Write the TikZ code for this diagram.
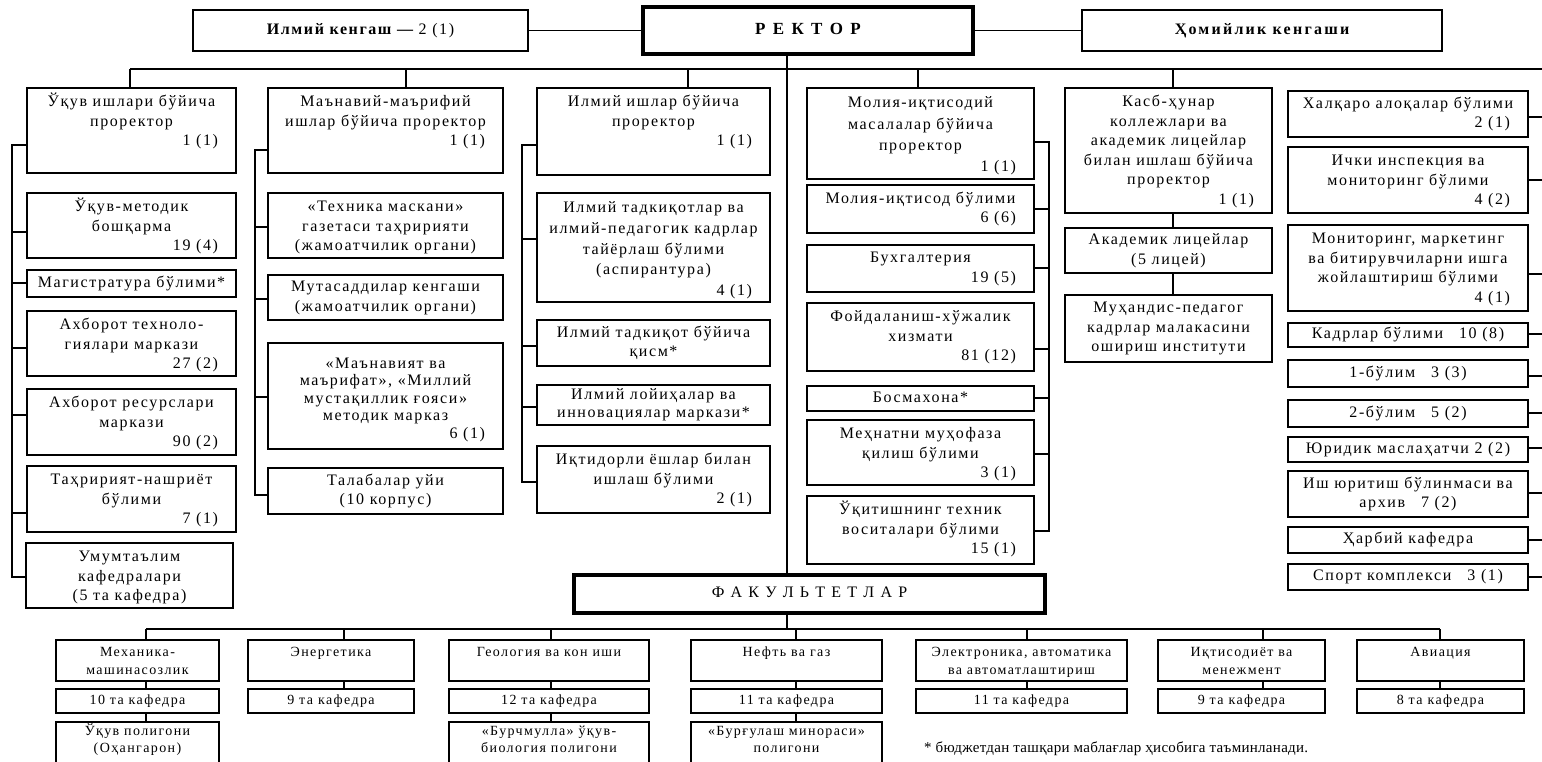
\documentclass[tikz,border=0pt]{standalone}
\usepackage{fontspec}
\setmainfont{Liberation Serif}[LetterSpace=10]
\newlength\toppad
\setlength\toppad{5pt}
\newcommand\boxfont{\fontsize{16}{19.5}\selectfont}
\newcommand\Ln[1]{\makebox[\linewidth]{\strut #1}\par}
\newcommand\Rn[1]{\makebox[\linewidth][r]{\strut #1\hspace{18pt}}\par}
\newcommand\Bx[7][]{\node[bx,#1,anchor=north west] (#2) at (#3,#4) {\parbox[c][\dimexpr #6pt-#4pt\relax][t]{\dimexpr #5pt-#3pt\relax}{\boxfont\vspace*{\toppad}#7}};}
\newcommand\Bc[7][]{\node[bx,#1,anchor=north west] (#2) at (#3,#4) {\parbox[c][\dimexpr #6pt-#4pt\relax][c]{\dimexpr #5pt-#3pt\relax}{\boxfont #7}};}
\begin{document}
\begin{tikzpicture}[x=1pt,y=-1pt,
  bx/.style={draw,line width=1.4pt,inner sep=0pt,outer sep=0pt},
  thickbx/.style={line width=3.6pt},
  ln/.style={line width=1.3pt}]
\useasboundingbox (0,0) rectangle (1542,761);
\fill[white] (0,0) rectangle (1542,761);
\clip (0,0) rectangle (1542,761);

% top row
\Bc{ilmk}{193}{10}{528}{51}{\Ln{\bfseries Илмий кенгаш —\mdseries\ 2 (1)}}
\Bc[thickbx]{rektor}{643}{7}{973}{54}{\fontsize{17}{20}\selectfont\addfontfeature{LetterSpace=18}\Ln{\bfseries Р Е К Т О Р}}
\Bc{homiy}{1082}{10}{1442}{51}{\addfontfeature{LetterSpace=14}\Ln{\bfseries Ҳомийлик кенгаши}}

% column 1
\Bx{c1p}{27}{88}{236}{173}{\Ln{Ўқув ишлари бўйича}\Ln{проректор}\Rn{1 (1)}}
\Bx{c1a}{27}{193}{236}{258}{\Ln{Ўқув-методик}\Ln{бошқарма}\Rn{19 (4)}}
\Bc{c1b}{27}{270}{236}{297}{\Ln{Магистратура бўлими*}}
\Bx{c1c}{27}{311}{236}{376}{\Ln{Ахборот техноло-}\Ln{гиялари маркази}\Rn{27 (2)}}
\Bx{c1d}{27}{389}{236}{455}{\Ln{Ахборот ресурслари}\Ln{маркази}\Rn{90 (2)}}
\Bx{c1e}{27}{466}{236}{532}{\Ln{Таҳририят-нашриёт}\Ln{бўлими}\Rn{7 (1)}}
\Bx{c1f}{26}{543}{233}{608}{\Ln{Умумтаълим}\Ln{кафедралари}\Ln{(5 та кафедра)}}

% column 2
\Bx{c2p}{268}{88}{503}{173}{\Ln{Маънавий-маърифий}\Ln{ишлар бўйича проректор}\Rn{1 (1)}}
\Bx{c2a}{268}{193}{503}{258}{\Ln{«Техника маскани»}\Ln{газетаси таҳририяти}\Ln{(жамоатчилик органи)}}
\Bc{c2b}{268}{275}{503}{320}{\Ln{Мутасаддилар кенгаши}\Ln{(жамоатчилик органи)}}
\Bx{c2c}{268}{343}{503}{449}{\fontsize{16}{17.5}\selectfont\vspace*{8pt}\Ln{«Маънавият ва}\Ln{маърифат», «Миллий}\Ln{мустақиллик ғояси»}\Ln{методик марказ}\Rn{6 (1)}}
\Bc{c2d}{268}{468}{503}{514}{\Ln{Талабалар уйи}\Ln{(10 корпус)}}

% column 3
\Bx{c3p}{537}{88}{770}{175}{\Ln{Илмий ишлар бўйича}\Ln{проректор}\Rn{1 (1)}}
\Bx{c3a}{537}{193}{770}{302}{\fontsize{16}{20.8}\selectfont\Ln{Илмий тадкиқотлар ва}\Ln{илмий-педагогик кадрлар}\Ln{тайёрлаш бўлими}\Ln{(аспирантура)}\Rn{4 (1)}}
\Bc{c3b}{537}{320}{770}{366}{\Ln{Илмий тадкиқот бўйича}\Ln{қисм*}}
\Bc{c3c}{537}{385}{770}{425}{\fontsize{16}{18}\selectfont\Ln{Илмий лойиҳалар ва}\Ln{инновациялар маркази*}}
\Bx{c3d}{537}{446}{770}{513}{\Ln{Иқтидорли ёшлар билан}\Ln{ишлаш бўлими}\Rn{2 (1)}}

% column 4
\Bx{c4p}{807}{88}{1034}{179}{\fontsize{16}{21.3}\selectfont\Ln{Молия-иқтисодий}\Ln{масалалар бўйича}\Ln{проректор}\Rn{1 (1)}}
\Bc{c4a}{807}{185}{1034}{233}{\Ln{Молия-иқтисод бўлими}\Rn{6 (6)}}
\Bc{c4b}{807}{245}{1034}{292}{\Ln{Бухгалтерия}\Rn{19 (5)}}
\Bx{c4c}{807}{303}{1034}{371}{\Ln{Фойдаланиш-хўжалик}\Ln{хизмати}\Rn{81 (12)}}
\Bc{c4d}{807}{386}{1034}{411}{\Ln{Босмахона*}}
\Bx{c4e}{807}{420}{1034}{485}{\Ln{Меҳнатни муҳофаза}\Ln{қилиш бўлими}\Rn{3 (1)}}
\Bx{c4f}{807}{496}{1034}{564}{\Ln{Ўқитишнинг техник}\Ln{воситалари бўлими}\Rn{15 (1)}}

% column 5
\Bx{c5p}{1065}{88}{1272}{213}{\Ln{Касб-ҳунар}\Ln{коллежлари ва}\Ln{академик лицейлар}\Ln{билан ишлаш бўйича}\Ln{проректор}\Rn{1 (1)}}
\Bc{c5a}{1065}{228}{1272}{273}{\Ln{Академик лицейлар}\Ln{(5 лицей)}}
\Bc{c5b}{1065}{295}{1272}{362}{\Ln{Муҳандис-педагог}\Ln{кадрлар малакасини}\Ln{ошириш институти}}

% column 6
\Bc{r1}{1288}{91}{1528}{137}{\Ln{Халқаро алоқалар бўлими}\Rn{2 (1)}}
\Bx{r2}{1288}{147}{1528}{213}{\Ln{Ички инспекция ва}\Ln{мониторинг бўлими}\Rn{4 (2)}}
\Bx{r3}{1288}{225}{1528}{311}{\Ln{Мониторинг, маркетинг}\Ln{ва битирувчиларни ишга}\Ln{жойлаштириш бўлими}\Rn{4 (1)}}
\Bc{r4}{1288}{323}{1528}{347}{\Ln{Кадрлар бўлими\quad 10 (8)}}
\Bc{r5}{1288}{360}{1528}{387}{\Ln{1-бўлим\quad 3 (3)}}
\Bc{r6}{1288}{400}{1528}{427}{\Ln{2-бўлим\quad 5 (2)}}
\Bc{r7}{1288}{437}{1528}{462}{\Ln{Юридик маслаҳатчи 2 (2)}}
\Bc{r8}{1288}{471}{1528}{517}{\Ln{Иш юритиш бўлинмаси ва}\Ln{архив\quad 7 (2)}}
\Bc{r9}{1288}{527}{1528}{553}{\Ln{Ҳарбий кафедра}}
\Bc{r10}{1288}{564}{1528}{590}{\Ln{Спорт комплекси\quad 3 (1)}}

% faculties
\Bc[thickbx]{fak}{574}{575}{1045}{613}{\addfontfeature{LetterSpace=14}\Ln{Ф А К У Л Ь Т Е Т Л А Р}}
\begin{scope}
\renewcommand\boxfont{\fontsize{14}{18}\selectfont}
\setlength\toppad{4pt}
\Bx{f1}{56}{640}{219}{681}{\Ln{Механика-}\Ln{машинасозлик}}
\Bx{f2}{248}{640}{414}{681}{\Ln{Энергетика}}
\Bx{f3}{449}{640}{649}{681}{\Ln{Геология ва кон иши}}
\Bx{f4}{691}{640}{882}{681}{\Ln{Нефть ва газ}}
\Bx{f5}{916}{640}{1127}{681}{\Ln{Электроника, автоматика}\Ln{ва автоматлаштириш}}
\Bx{f6}{1158}{640}{1325}{681}{\Ln{Иқтисодиёт ва}\Ln{менежмент}}
\Bx{f7}{1357}{640}{1524}{681}{\Ln{Авиация}}
\Bc{k1}{56}{689}{219}{713}{\Ln{10 та кафедра}}
\Bc{k2}{248}{689}{414}{713}{\Ln{9 та кафедра}}
\Bc{k3}{449}{689}{649}{713}{\Ln{12 та кафедра}}
\Bc{k4}{691}{689}{882}{713}{\Ln{11 та кафедра}}
\Bc{k5}{916}{689}{1127}{713}{\Ln{11 та кафедра}}
\Bc{k6}{1158}{689}{1325}{713}{\Ln{9 та кафедра}}
\Bc{k7}{1357}{689}{1524}{713}{\Ln{8 та кафедра}}
\renewcommand\boxfont{\fontsize{14}{17.5}\selectfont}
\setlength\toppad{1pt}
\Bx{p1}{56}{722}{219}{764}{\Ln{Ўқув полигони}\Ln{(Оҳангарон)}}
\Bx{p3}{449}{722}{649}{764}{\Ln{«Бурчмулла» ўқув-}\Ln{биология полигони}}
\Bx{p4}{691}{722}{882}{764}{\Ln{«Бурғулаш минораси»}\Ln{полигони}}
\end{scope}

\node[anchor=west,inner sep=0pt,font=\fontsize{15}{18}\selectfont\addfontfeature{LetterSpace=2}] (note) at (924,749) {* бюджетдан ташқари маблағлар ҳисобига таъминланади.};

% connectors: top
\draw[ln] (ilmk.east) -- (ilmk.east -| rektor.west);
\draw[ln] (rektor.east |- homiy.west) -- (homiy.west);
\coordinate (bl) at (130,69);
\coordinate (br) at (1542,69);
\draw[ln] (bl) -- (br);
\foreach \n/\x in {c1p/130,c2p/406,c3p/688,c4p/918,c5p/1173}
  \draw[ln] (\x,69) -- (\n.north -| \x,0);
\coordinate (mv) at (787,0);
\draw[line width=2.2pt] (rektor.south -| mv) -- (fak.north -| mv);

% column 1
\draw[ln] (c1p.west |- 0,145) -| (12,577) -- (c1f.west |- 0,577);
\foreach \n/\y in {c1a/232,c1b/283,c1c/348,c1d/415,c1e/513}
  \draw[ln] (\n.west |- 0,\y) -- (12,\y);
% column 2
\draw[ln] (c2p.west |- 0,150) -| (255,495) -- (c2d.west |- 0,495);
\foreach \n/\y in {c2a/227,c2b/299,c2c/397}
  \draw[ln] (\n.west |- 0,\y) -- (255,\y);
% column 3
\draw[ln] (c3p.west |- 0,145) -| (522,482) -- (c3d.west |- 0,482);
\foreach \n/\y in {c3a/239,c3b/346,c3c/407}
  \draw[ln] (\n.west |- 0,\y) -- (522,\y);
% column 4
\draw[ln] (c4p.east |- 0,142) -| (1049,531) -- (c4f.east |- 0,531);
\foreach \n/\y in {c4a/209,c4b/268,c4c/349,c4d/398,c4e/454}
  \draw[ln] (\n.east |- 0,\y) -- (1049,\y);
% column 5
\draw[ln] (c5p.south -| 1173,0) -- (c5a.north -| 1173,0);
\draw[ln] (c5a.south -| 1173,0) -- (c5b.north -| 1173,0);
% column 6
\foreach \n/\y in {r1/117,r2/180,r3/274,r4/334,r5/376,r6/413,r7/448,r8/493,r9/540,r10/577}
  \draw[ln] (\n.east |- 0,\y) -- (1542,\y);

% faculties
\draw[ln] (fak.south -| mv) -- (787,629);
\draw[ln] (146,629) -- (1440,629);
\foreach \n/\x in {f1/146,f2/344,f3/551,f4/796,f5/1027,f6/1263,f7/1440}
  \draw[ln] (\x,629) -- (\n.north -| \x,0);
\foreach \a/\b/\x in {f1/k1/146,f2/k2/344,f3/k3/551,f4/k4/796,f5/k5/1027,f6/k6/1263,f7/k7/1440,k1/p1/146,k3/p3/551,k4/p4/796}
  \draw[ln] (\a.south -| \x,0) -- (\b.north -| \x,0);
\end{tikzpicture}
\end{document}
